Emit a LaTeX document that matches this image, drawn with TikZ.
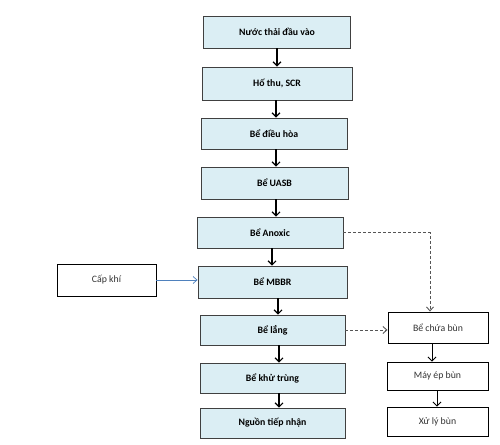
\documentclass[tikz,border=0pt]{standalone}
\usepackage{fontspec}
\setmainfont{Carlito}
\usetikzlibrary{arrows.meta}
\definecolor{boxfill}{HTML}{DBEEF4}
\definecolor{dashgray}{HTML}{555555}
\definecolor{airblue}{HTML}{4F81BD}
\tikzset{
  mainbox/.style={draw=black!75, line width=0.9pt, fill=boxfill, font=\bfseries\fontsize{9.8}{11}\selectfont, inner sep=0pt},
  sidebox/.style={draw=black, line width=0.9pt, fill=white, text=black!80, font=\fontsize{9.8}{11}\selectfont, inner sep=0pt},
  flow/.style={draw=black, line width=1.1pt, -{Straight Barb[length=4pt,width=8pt]}},
  sludge/.style={draw=dashgray, line width=0.9pt, dashed, dash pattern=on 3pt off 2pt, -{Straight Barb[length=4pt,width=7pt]}},
  air/.style={draw=airblue, line width=0.7pt, -{Straight Barb[length=4pt,width=7pt]}}
}
\begin{document}
\begin{tikzpicture}[x=1pt,y=-1pt]
\useasboundingbox (0,0) rectangle (500,444);
\node[mainbox, minimum width=147pt, minimum height=32pt] (n1) at (277,32) {Nước thải đầu vào};
\node[mainbox, minimum width=150pt, minimum height=33pt] (n2) at (277,83.5) {Hố thu, SCR};
\node[mainbox, minimum width=146pt, minimum height=31pt] (n3) at (274,133.5) {Bể điều hòa};
\node[mainbox, minimum width=147pt, minimum height=32pt] (n4) at (274.5,183) {Bể UASB};
\node[mainbox, minimum width=146pt, minimum height=31pt] (n5) at (270,232.5) {Bể Anoxic};
\node[mainbox, minimum width=149pt, minimum height=32pt] (n6) at (272.5,282) {Bể MBBR};
\node[mainbox, minimum width=145pt, minimum height=30pt] (n7) at (272.5,330) {Bể lắng};
\node[mainbox, minimum width=145pt, minimum height=30pt] (n8) at (272.5,378) {Bể khử trùng};
\node[mainbox, minimum width=145pt, minimum height=30pt] (n9) at (272.5,423) {Nguồn tiếp nhận};
\node[sidebox, minimum width=99pt, minimum height=32pt] (air) at (106.5,280) {Cấp khí};
\node[sidebox, minimum width=100pt, minimum height=31pt] (s1) at (438,327.5) {Bể chứa bùn};
\node[sidebox, minimum width=101pt, minimum height=28pt] (s2) at (437.5,376) {Máy ép bùn};
\node[sidebox, minimum width=101pt, minimum height=29pt] (s3) at (437.5,421.5) {Xử lý bùn};
\draw[flow] (n1.south -| 277,0) -- (n2.north -| 277,0);
\draw[flow] (n2.south -| 276,0) -- (n3.north -| 276,0);
\draw[flow] (n3.south -| 276,0) -- (n4.north -| 276,0);
\draw[flow] (n4.south -| 276,0) -- (n5.north -| 276,0);
\draw[flow] (n5.south -| 272,0) -- (n6.north -| 272,0);
\draw[flow] (n6.south -| 278,0) -- (n7.north -| 278,0);
\draw[flow] (n7.south -| 279,0) -- (n8.north -| 279,0);
\draw[flow] (n8.south -| 279,0) -- (n9.north -| 279,0);
\draw[air] (air.east) -- (n6.west |- air.east);
\draw[sludge] (n5.east) -| (s1.north -| 430,0);
\draw[sludge] (n7.east) -- (s1.west |- n7.east);
\draw[flow, line width=0.8pt] (s1.south -| 432,0) -- (s2.north -| 432,0);
\draw[flow, line width=0.8pt] (s2.south -| 437,0) -- (s3.north -| 437,0);
\end{tikzpicture}
\end{document}
